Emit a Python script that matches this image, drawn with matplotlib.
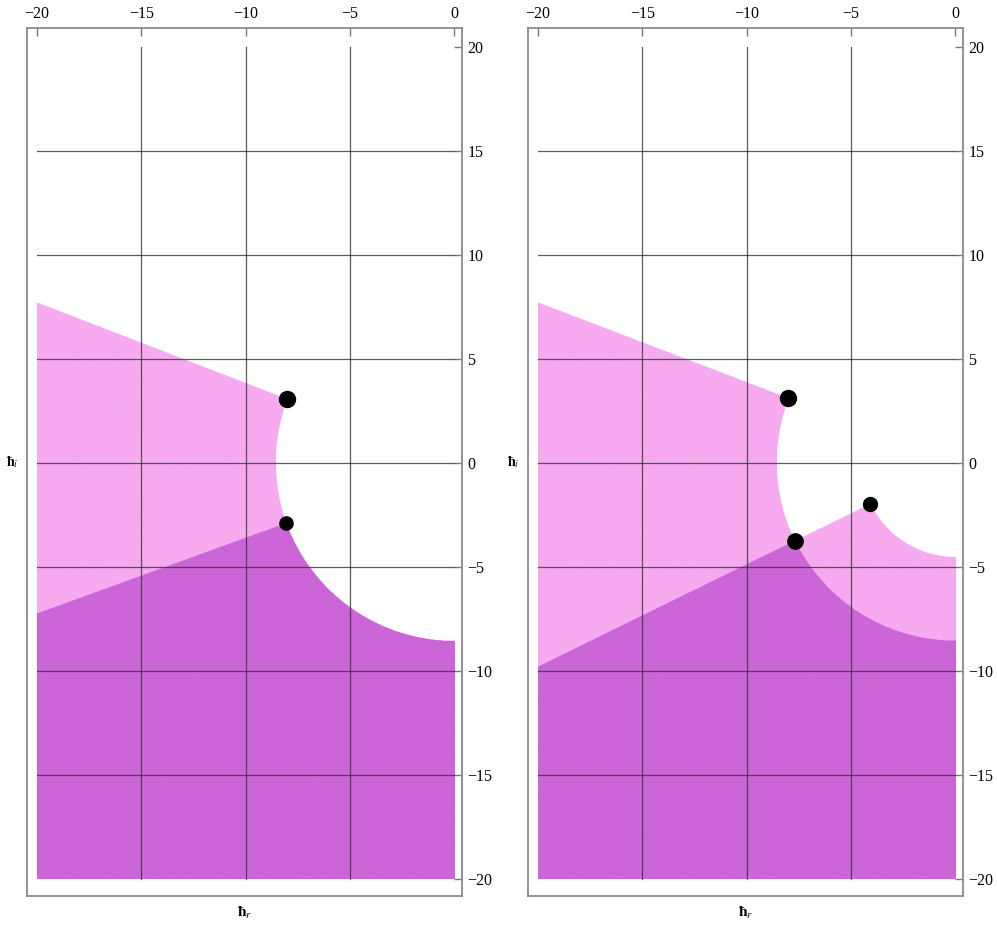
import numpy as np
import matplotlib
matplotlib.use("Agg")
import matplotlib.pyplot as plt
from matplotlib.colors import to_rgba

plt.rcParams['font.family'] = ['Liberation Serif', 'DejaVu Serif']
plt.rcParams['mathtext.fontset'] = 'stix'

# shared geometry
x_ticks = [-20, -15, -10, -5, 0]
y_ticks = [20, 15, 10, 5, 0, -5, -10, -15, -20]
grid_x = [-15, -10, -5]
grid_y = [15, 10, 5, 0, -5, -10, -15]

# left panel: big circle radius, the two rays (start at x=-20, end at the dot)
left_radius = 8.56
left_upper_ray = [(-20.0, 7.7), (-8.0, 3.05)]
left_lower_ray = [(-20.0, -7.25), (-8.05, -2.9)]
left_dots_x = [-8.0, -8.05]
left_dots_y = [3.05, -2.9]
left_dots_size = [11.5, 9.5]

# right panel: big circle, small circle, two rays
right_radius = 8.56
right_small_radius = 4.53
right_upper_ray = [(-20.0, 7.7), (-8.0, 3.1)]
right_lower_ray = [(-20.0, -9.8), (-4.08, -1.97)]
right_dots_x = [-8.0, -7.67, -4.08]
right_dots_y = [3.1, -3.75, -1.97]
right_dots_size = [11.5, 11.0, 10.0]

light = '#f7aaf0'
dark = '#cc66d8'


def below(ray, X, Y):
    (x0, y0), (x1, y1) = ray
    slope = (y1 - y0) / (x1 - x0)
    return Y < y0 + slope * (X - x0)


xs = np.linspace(-20, 0, 1001)
ys = np.linspace(20, -20, 2001)
X, Y = np.meshgrid(xs, ys)
mod = np.hypot(X, Y)


def region_image(set1, set2):
    # transparent white everywhere so the smoothed edges stay clean
    img = np.zeros(X.shape + (4,))
    img[..., :3] = 1.0
    one = set1 ^ set2
    both = set1 & set2
    img[one] = to_rgba(light)
    img[both] = to_rgba(dark)
    return img


left_img = region_image((mod > left_radius) & below(left_upper_ray, X, Y),
                        (mod > left_radius) & below(left_lower_ray, X, Y))
right_img = region_image((mod > right_radius) & below(right_upper_ray, X, Y),
                         (mod > right_small_radius) & below(right_lower_ray, X, Y))

fig = plt.figure(figsize=(9.97, 9.25), dpi=100)
ax1 = fig.add_axes([27 / 997, 29 / 925, 435 / 997, 868 / 925])
ax2 = fig.add_axes([528 / 997, 29 / 925, 435 / 997, 868 / 925])

panels = [
    (ax1, left_img, left_dots_x, left_dots_y, left_dots_size),
    (ax2, right_img, right_dots_x, right_dots_y, right_dots_size),
]

for ax, img, dx, dy, ds in panels:
    ax.imshow(img, extent=(-20, 0, -20, 20), origin='upper',
              interpolation='antialiased', aspect='auto', zorder=1)
    for gx in grid_x:
        ax.plot([gx, gx], [-20, 20], color='#333333', lw=0.9, alpha=0.8, zorder=2)
    for gy in grid_y:
        ax.plot([-20, 0], [gy, gy], color='#333333', lw=0.9, alpha=0.8, zorder=2)
    for x, y, s in zip(dx, dy, ds):
        ax.plot(x, y, 'o', color='black', ms=s, zorder=3)

    ax.set_xlim(-20.48, 0.38)
    ax.set_ylim(-20.82, 20.91)

    ax.xaxis.tick_top()
    ax.yaxis.tick_right()
    ax.set_xticks(x_ticks)
    ax.set_yticks(y_ticks)
    ax.tick_params(direction='in', length=6, width=1.0, color='#777777',
                   labelsize=11.5, pad=4)
    for sp in ax.spines.values():
        sp.set_color('#8a8a8a')
        sp.set_linewidth(1.3)

    ax.text(-0.034, 0.5, 'ħ$_{i}$', transform=ax.transAxes, ha='center',
            va='center', fontsize=10, fontweight='bold')
    ax.text(0.501, -0.02, 'ħ$_{r}$', transform=ax.transAxes, ha='center',
            va='center', fontsize=11, fontweight='bold')

fig.savefig('out.png', dpi=100)
